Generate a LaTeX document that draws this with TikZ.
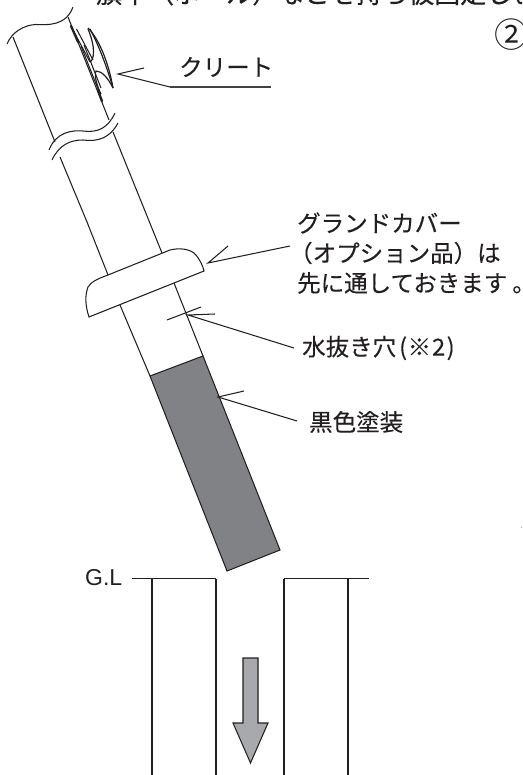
\documentclass[tikz,border=0pt]{standalone}
\usepackage{fontspec}
\setmainfont{Liberation Sans}
\newfontfamily\jp[FakeBold=0.25]{Noto Sans CJK JP}
\newfontfamily\jpl{Noto Sans CJK JP}
\definecolor{ink}{HTML}{231F20}
\definecolor{dgray}{HTML}{808285}
\definecolor{lgray}{HTML}{A7A9AC}
\tikzset{
  ln/.style={draw=ink,line width=1.05pt},
  lbl/.style={inner sep=0pt,anchor=west,text=ink,font=\jp\fontsize{23.5}{23.5}\selectfont},
}
\begin{document}
\begin{tikzpicture}[x=1pt,y=-1pt]
\useasboundingbox (0,0) rectangle (522,775);
\clip (0,0) rectangle (522,775);
% pipe upper
\coordinate (tl) at (13,37); \coordinate (tr) at (68,17);
\draw[ln] (7,44) .. controls (12,32) and (24,25) .. (36,24.5) .. controls (48,25) and (66,26) .. (73,7);
\draw[ln] (tl) -- (55,142);
\draw[ln] (tr) -- (109,120);
\draw[ln] (49,150) .. controls (56,132) and (72,130) .. (83,131) .. controls (98,133) and (108,128) .. (115,113);
\draw[ln] (52,160) .. controls (59,145) and (70,140) .. (83,140) .. controls (98,142) and (110,138) .. (118,123);
\draw[ln] (60,157) -- (87,222) -- (108,275);
\draw[ln] (113,132) -- (162,253);
% cover
\draw[ln] (108,275) -- (170,250) .. controls (178,248) and (190,248) .. (196,255) .. controls (200,260) and (203,266) .. (204,271) -- (89,317) .. controls (85,305) and (85,295) .. (88,287) .. controls (91,282) and (97,279) .. (108,275);
% lower pipe
\draw[ln] (120,305) -- (150,376);
\draw[ln] (174,283) -- (203,356);
\filldraw[ln,fill=dgray] (150,376) -- (203,356) -- (280,550) -- (227,571) -- cycle;
% drain hole tick and arrows
\draw[ln] (167,320) -- (201,307);
\draw[ln] (215,314) -- (188,315) -- (294,348);
\draw[ln] (228,246) -- (208,263) -- (290,246);
\draw[ln] (244,391) -- (218,397) -- (297,421);
% cleat
\draw[draw=ink,line width=2.2pt,line cap=round] (71,26) -- (78,42);
\draw[draw=ink,line width=2.2pt,line cap=round] (98,90) -- (102,101);
\draw[ln] (73,30) -- (90,62);
\draw[ln] (76.5,29) -- (93,60);
\draw[ln] (81,46) -- (100,94);
\draw[ln] (84,45) -- (101,88);
\draw[draw=ink,line width=1.2pt] (90,62) .. controls (94,60) and (96,48) .. (88,29);
\draw[draw=ink,line width=1.2pt] (88,28) .. controls (100,40) and (109,65) .. (113,88);
\draw[draw=ink,line width=1.2pt] (90,29) .. controls (95,38) and (105,60) .. (113,88);
\draw[draw=ink,line width=1.2pt] (113,88) .. controls (108,78) and (102,71) .. (96,71) .. controls (94,76) and (97,86) .. (101,94);
% cleat arrow
\draw[ln] (144,68) -- (118,74) -- (170,87);
\draw[draw=ink!85,line width=1.2pt] (170,87) -- (271,87);
% ground
\draw[ln] (132,578.5) -- (216,578.5);
\draw[ln] (152,578.5) -- (152,775);
\draw[ln,line width=1.3pt] (216,578.5) -- (216,775);
\draw[ln,line width=1.5pt] (284,775) -- (284,578.5);
\draw[ln] (284,578.5) -- (369,578.5);
\draw[ln] (348,578.5) -- (348,775);
% arrow
\filldraw[ln,fill=lgray] (243,658) -- (258,658) -- (258,723) -- (268,723) -- (250.5,763) -- (233,723) -- (243,723) -- cycle;
\draw[draw=lgray,line width=0.8pt] (521,527) -- (522,527);
% labels
\node[lbl] (cleat) at (179,67) {クリート};
\node[lbl] (gc1) at (297,223) {グランドカバー};
\node[lbl] (gc2) at (289,253) {（オプション品）は};
\node[lbl] (gc3) at (297,283) {先に通しておきます\kern5pt。\kern-19pt};
\node[lbl] (hole) at (302,348) {水抜き穴\kern3pt(\kern0.5pt※\kern1pt2\kern1.5pt)};
\node[lbl] (black) at (309,422) {黒色塗装};
\node[inner sep=0pt,anchor=west,text=ink,font=\fontsize{23}{23}\selectfont] (gl) at (85,578) {G.L};
\node[inner sep=0pt,anchor=west,text=ink,font=\jpl\fontsize{34}{34}\selectfont] (num) at (494,35) {②};
\node[inner sep=0pt,anchor=base west,text=ink,font=\jp\fontsize{26}{26}\selectfont] (top) at (96,3) {旗竿（ポール）などを持ち仮固定します};
\end{tikzpicture}
\end{document}
